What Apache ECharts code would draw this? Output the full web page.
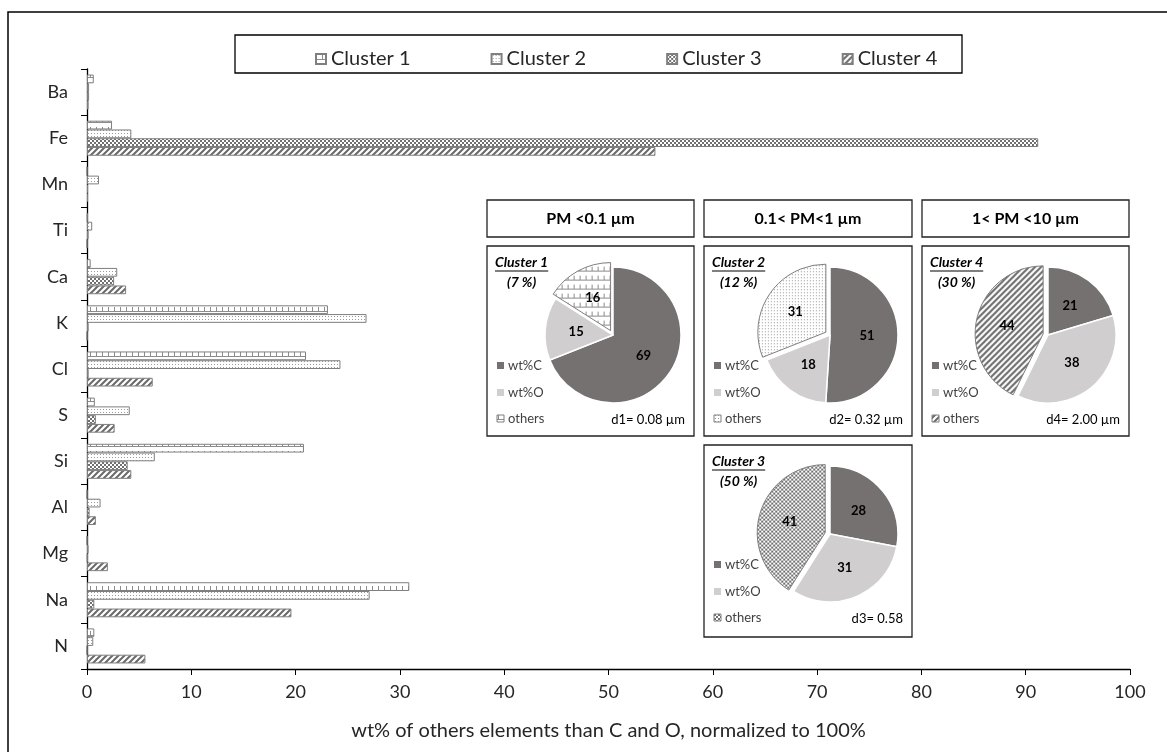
<!DOCTYPE html>
<html>
<head>
<meta charset="utf-8">
<script src="https://cdn.jsdelivr.net/npm/echarts@6/dist/echarts.min.js"></script>
<style>
  html, body { margin: 0; padding: 0; background: #fff; }
  #chart { width: 1167px; height: 752px; }
</style>
</head>
<body>
<div id="chart"></div>
<script>
// ---- data ----
var elements = ['Ba', 'Fe', 'Mn', 'Ti', 'Ca', 'K', 'Cl', 'S', 'Si', 'Al', 'Mg', 'Na', 'N'];
var cluster1 = [0.65, 2.4, 0, 0.05, 0.35, 23.1, 21.0, 0.75, 20.8, 0, 0, 30.9, 0.7];
var cluster2 = [0.2, 4.25, 1.15, 0.5, 2.9, 26.8, 24.3, 4.1, 6.5, 1.3, 0.15, 27.1, 0.6];
var cluster3 = [0.2, 91.2, 0.1, 0.15, 2.6, 0.15, 0.15, 0.85, 3.9, 0.25, 0.05, 0.7, 0];
var cluster4 = [0.15, 54.5, 0.1, 0, 3.75, 0, 6.3, 2.65, 4.25, 0.85, 2.0, 19.6, 5.6];
var clusterNames = ['Cluster 1', 'Cluster 2', 'Cluster 3', 'Cluster 4'];

var pieNames = ['wt%C', 'wt%O', 'others'];
var pieCluster1 = [69, 15, 16];
var pieCluster2 = [51, 18, 31];
var pieCluster3 = [28, 31, 41];
var pieCluster4 = [21, 38, 44];

var FONT = 'Lato, "Liberation Sans", sans-serif';

// ---- fill patterns (Excel-like hatches) ----
function makePattern(kind) {
    var c = document.createElement('canvas');
    var ctx = c.getContext('2d');
    if (kind === 1) {
        c.width = 6; c.height = 9;
        ctx.fillStyle = '#fff'; ctx.fillRect(0, 0, 6, 9);
        ctx.fillStyle = '#8c8c8c';
        ctx.fillRect(0, 1, 1, 4);
        ctx.fillRect(0, 5, 6, 1);
    } else if (kind === 2) {
        c.width = 3; c.height = 3;
        ctx.fillStyle = '#fff'; ctx.fillRect(0, 0, 3, 3);
        ctx.fillStyle = '#9a9a9a';
        ctx.fillRect(1, 1, 1, 1);
    } else if (kind === 3) {
        c.width = 4; c.height = 4;
        ctx.fillStyle = '#fff'; ctx.fillRect(0, 0, 4, 4);
        ctx.fillStyle = '#707070';
        ctx.fillRect(0, 0, 2, 2);
        ctx.fillRect(2, 2, 2, 2);
    } else {
        c.width = 6; c.height = 6;
        ctx.fillStyle = '#fff'; ctx.fillRect(0, 0, 6, 6);
        ctx.strokeStyle = '#6a6a6a'; ctx.lineWidth = 2;
        ctx.beginPath();
        ctx.moveTo(-1, 7); ctx.lineTo(7, -1);
        ctx.moveTo(-4, 4); ctx.lineTo(4, -4);
        ctx.moveTo(2, 10); ctx.lineTo(10, 2);
        ctx.stroke();
    }
    return { image: c, repeat: 'repeat' };
}
var patterns = [makePattern(1), makePattern(2), makePattern(3), makePattern(4)];

function textWidth(str, font) {
    var ctx = document.createElement('canvas').getContext('2d');
    ctx.font = font;
    return ctx.measureText(str).width;
}

// ---- bar series ----
var barData = [cluster1, cluster2, cluster3, cluster4];
var series = barData.map(function (d, i) {
    return {
        type: 'bar',
        name: clusterNames[i],
        data: d,
        barGap: '0%',
        barCategoryGap: '24%',
        itemStyle: { color: patterns[i], borderColor: '#7f7f7f', borderWidth: 1 },
        emphasis: { disabled: true },
        animation: false
    };
});

// ---- pies ----
function pieSeries(vals, center, pattern) {
    return {
        type: 'pie',
        center: center,
        radius: 68,
        startAngle: 90,
        clockwise: true,
        selectedMode: 'multiple',
        selectedOffset: 5,
        silent: true,
        animation: false,
        emphasis: { disabled: true },
        label: { position: 'inside', formatter: '{c}', fontWeight: 'bold', fontSize: 13, color: '#000', fontFamily: FONT },
        labelLine: { show: false },
        data: [
            { name: pieNames[0], value: vals[0], itemStyle: { color: '#767171', borderColor: '#fff', borderWidth: 1.5 } },
            { name: pieNames[1], value: vals[1], itemStyle: { color: '#d0cece', borderColor: '#fff', borderWidth: 1.5 } },
            { name: pieNames[2], value: vals[2], selected: true, itemStyle: { color: pattern, borderColor: '#7f7f7f', borderWidth: 1 } }
        ]
    };
}

var panels = [
    { x: 487, y: 246, w: 207, h: 190, title: 'Cluster 1', pct: '(7 %)', d: 'd1= 0.08 µm', vals: pieCluster1, pat: patterns[0] },
    { x: 704, y: 246, w: 208, h: 190, title: 'Cluster 2', pct: '(12 %)', d: 'd2= 0.32 µm', vals: pieCluster2, pat: patterns[1] },
    { x: 922, y: 246, w: 207, h: 190, title: 'Cluster 4', pct: '(30 %)', d: 'd4= 2.00 µm', vals: pieCluster4, pat: patterns[3] },
    { x: 704, y: 445, w: 208, h: 192, title: 'Cluster 3', pct: '(50 %)', d: 'd3= 0.58', vals: pieCluster3, pat: patterns[2] }
];

var headers = [
    { x: 487, w: 207, text: 'PM <0.1 µm' },
    { x: 704, w: 208, text: '0.1< PM<1 µm' },
    { x: 922, w: 207, text: '1< PM <10 µm' }
];

var graphics = [
    // outer frame (cut by the picture edge)
    { type: 'rect', shape: { x: 8, y: 12, width: 1200, height: 800 }, style: { fill: 'none', stroke: '#000', lineWidth: 1.5 }, z: 0, silent: true },
    // legend frame
    { type: 'rect', shape: { x: 235, y: 35, width: 727, height: 38 }, style: { fill: '#fff', stroke: '#000', lineWidth: 1.3 }, z: 1, silent: true }
];

headers.forEach(function (h) {
    graphics.push({ type: 'rect', shape: { x: h.x, y: 200, width: h.w, height: 37 }, style: { fill: '#fff', stroke: '#222', lineWidth: 1.3 }, z: 1, silent: true });
    graphics.push({ type: 'text', x: h.x + h.w / 2, y: 218.5, style: { text: h.text, font: 'bold 16px ' + FONT, fill: '#000', align: 'center', verticalAlign: 'middle' }, z: 2, silent: true });
});

var titleFont = 'italic bold 14px ' + FONT;
panels.forEach(function (p, i) {
    graphics.push({ type: 'rect', shape: { x: p.x, y: p.y, width: p.w, height: p.h }, style: { fill: '#fff', stroke: '#222', lineWidth: 1.3 }, z: 1, silent: true });
    var tw = textWidth(p.title, titleFont);
    graphics.push({ type: 'text', x: p.x + 8, y: p.y + 16, style: { text: p.title, font: titleFont, fill: '#000', verticalAlign: 'middle' }, z: 3, silent: true });
    graphics.push({ type: 'line', shape: { x1: p.x + 8, y1: p.y + 25, x2: p.x + 8 + tw, y2: p.y + 25 }, style: { stroke: '#000', lineWidth: 1 }, z: 3, silent: true });
    graphics.push({ type: 'text', x: p.x + 8 + tw / 2, y: p.y + 36, style: { text: p.pct, font: titleFont, fill: '#000', align: 'center', verticalAlign: 'middle' }, z: 3, silent: true });
    // little legend
    var rows = [p.y + 120, p.y + 147, p.y + 173];
    var fills = ['#767171', '#d0cece', p.pat];
    rows.forEach(function (ry, k) {
        graphics.push({ type: 'rect', shape: { x: p.x + 10, y: ry - 4, width: 7, height: 7 }, style: { fill: fills[k], stroke: k === 2 ? '#7f7f7f' : null, lineWidth: 1 }, z: 3, silent: true });
        graphics.push({ type: 'text', x: p.x + 21, y: ry, style: { text: pieNames[k], font: '13px ' + FONT, fill: '#404040', verticalAlign: 'middle' }, z: 3, silent: true });
    });
    graphics.push({ type: 'text', x: p.x + p.w - 9, y: p.y + 174, style: { text: p.d, font: '13px ' + FONT, fill: '#000', align: 'right', verticalAlign: 'middle' }, z: 3, silent: true });
    series.push(pieSeries(p.vals, [p.x + 126, p.y + 89], p.pat));
});

var chart = echarts.init(document.getElementById('chart'));
chart.setOption({
    backgroundColor: '#fff',
    animation: false,
    textStyle: { fontFamily: FONT },
    grid: { left: 87, right: 37, top: 69, bottom: 83, containLabel: false },
    legend: {
        data: clusterNames,
        left: 310,
        top: 44,
        itemGap: 80,
        itemWidth: 10,
        itemHeight: 10,
        icon: 'rect',
        selectedMode: false,
        textStyle: { fontSize: 20, color: '#262626', fontFamily: FONT },
        z: 5
    },
    xAxis: {
        type: 'value',
        min: 0,
        max: 100,
        interval: 10,
        splitLine: { show: false },
        axisLine: { show: true, lineStyle: { color: '#000', width: 1.3 } },
        axisTick: { show: true, length: 6, lineStyle: { color: '#000' } },
        axisLabel: { fontSize: 18, color: '#262626', margin: 14, fontFamily: FONT },
        name: 'wt% of others elements than C and O, normalized to 100%',
        nameLocation: 'middle',
        nameGap: 52,
        nameTextStyle: { fontSize: 20, color: '#262626', fontFamily: FONT }
    },
    yAxis: {
        type: 'category',
        data: elements,
        inverse: true,
        axisLine: { show: true, lineStyle: { color: '#000', width: 1.3 } },
        axisTick: { show: true, length: 6, lineStyle: { color: '#000' } },
        axisLabel: { fontSize: 18, color: '#262626', margin: 19, fontFamily: FONT },
        splitLine: { show: false }
    },
    graphic: { elements: graphics },
    series: series
});
</script>
</body>
</html>
